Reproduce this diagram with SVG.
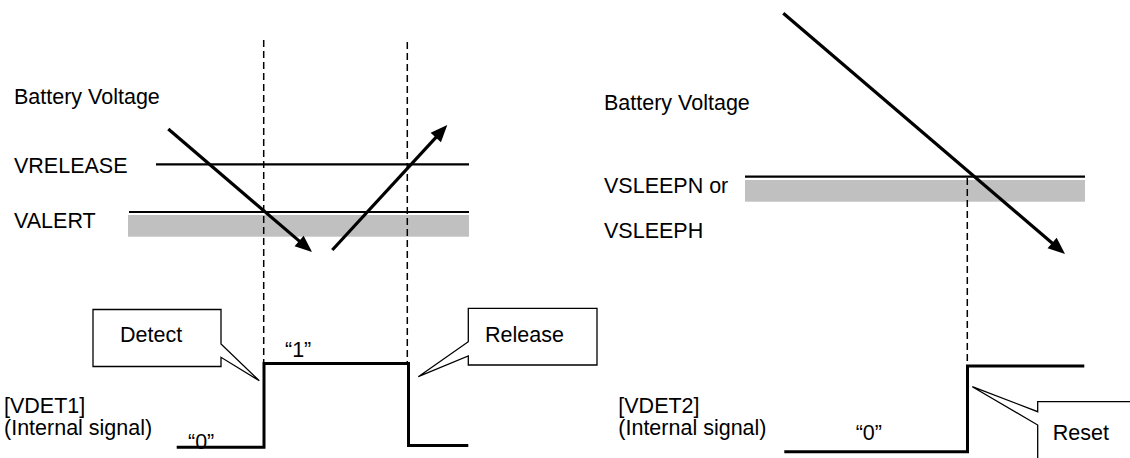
<svg xmlns="http://www.w3.org/2000/svg" width="1130" height="458" viewBox="0 0 1130 458">
<style>
text{font-family:"Liberation Sans",Arial,sans-serif;font-size:21.5px;fill:#000}
.th{stroke:#000;stroke-width:2.2;fill:none}
.band{fill:#c0c0c0}
.dash{stroke:#000;stroke-width:1.5;stroke-dasharray:7 4;fill:none}
.sig{stroke:#000;stroke-width:3;fill:none;stroke-linejoin:miter}
.arr{stroke:#000;stroke-width:3.2;fill:none;marker-end:url(#ah)}
.call{fill:#fff;stroke:#000;stroke-width:1.3;stroke-linejoin:miter}
</style>
<defs>
<marker id="ah" markerUnits="userSpaceOnUse" markerWidth="18" markerHeight="14" refX="3" refY="7" orient="auto" overflow="visible">
<path d="M0,0 L17,7 L0,14 z" fill="#000"/>
</marker>
</defs>
<rect width="1130" height="458" fill="#fff"/>

<g id="left-levels">
<rect class="band" x="128" y="215" width="341" height="21.7"/>
<line class="th" x1="156" y1="164.3" x2="469" y2="164.3"/>
<line class="th" x1="129" y1="212" x2="469" y2="212"/>
<text x="14" y="104">Battery Voltage</text>
<text x="14" y="172.7">VRELEASE</text>
<text x="14" y="228.3">VALERT</text>
</g>

<g id="right-levels">
<rect class="band" x="745" y="180" width="340" height="21.7"/>
<line class="th" x1="745" y1="176.7" x2="1085" y2="176.7"/>
<text x="604" y="110">Battery Voltage</text>
<text x="604" y="193.3">VSLEEPN or</text>
<text x="604" y="238.3">VSLEEPH</text>
</g>

<g id="connectors">
<line class="dash" x1="263.7" y1="40" x2="263.7" y2="363"/>
<line class="dash" x1="407.3" y1="42" x2="407.3" y2="363"/>
<line class="dash" x1="967.3" y1="178" x2="967.3" y2="366"/>
<line class="arr" x1="168.3" y1="129" x2="301.4" y2="242.9"/>
<line class="arr" x1="332.3" y1="250" x2="437.8" y2="135.3"/>
<line class="arr" x1="783.3" y1="13.3" x2="1054.4" y2="245"/>
</g>

<g id="vdet1">
<path class="sig" d="M176.7,447.3 H264 V363.5 H408.5 V445.5 H468.3"/>
<text x="4" y="413">[VDET1]</text>
<text x="4" y="435">(Internal signal)</text>
<text x="285" y="356.7">“1”</text>
<text x="188" y="449">“0”</text>
</g>

<g id="vdet2">
<path class="sig" d="M784.3,451.7 H967.5 V366 H1084.3"/>
<text x="618.3" y="413.3">[VDET2]</text>
<text x="618.3" y="435">(Internal signal)</text>
<text x="855.7" y="440">“0”</text>
</g>

<g id="detect">
<path class="call" d="M93,309.5 H221 V344 L259.3,380.7 L221,357.3 V366.5 H93 Z"/>
<text x="120" y="341.7">Detect</text>
</g>

<g id="release">
<path class="call" d="M468.3,308.3 H597 V365 H468.3 V356 L418.3,376.7 L468.3,341.7 Z"/>
<text x="485" y="341.7">Release</text>
</g>

<g id="reset">
<path class="call" d="M1037.7,401.7 H1140 V470 H1037.7 V425 L972.3,386.7 L1037.7,411.7 Z"/>
<text x="1052.7" y="440">Reset</text>
</g>
</svg>
